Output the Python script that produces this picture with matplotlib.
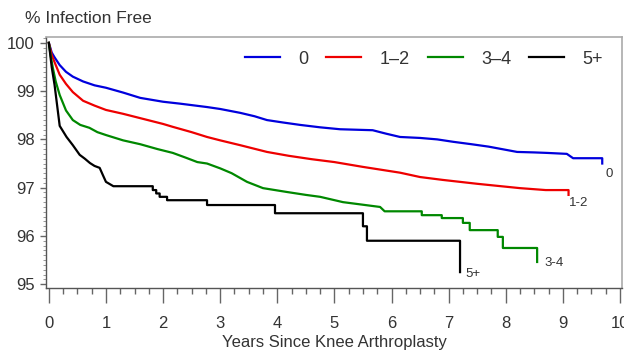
import matplotlib
matplotlib.use("Agg")
import matplotlib.pyplot as plt
from matplotlib.ticker import MultipleLocator

plt.rcParams['font.family'] = ['Liberation Sans', 'DejaVu Sans']

# ---- data ----
years_0 = [0, 0.05, 0.1, 0.19, 0.3, 0.42, 0.6, 0.8, 1.0, 1.3, 1.6, 2.0, 2.3, 2.77, 3.0, 3.35, 3.6, 3.82,
           4.1, 4.4, 4.75, 5.1, 5.67, 5.9, 6.15, 6.5, 6.8, 7.08, 7.4, 7.7, 8.2, 8.5, 8.72, 9.07, 9.18,
           9.69, 9.69]
free_0 = [100, 99.8, 99.7, 99.54, 99.4, 99.3, 99.2, 99.12, 99.07, 98.97, 98.86, 98.78, 98.74, 98.67,
          98.63, 98.55, 98.48, 98.40, 98.35, 98.30, 98.25, 98.21, 98.19, 98.12, 98.05, 98.03, 98.0,
          97.95, 97.9, 97.85, 97.74, 97.73, 97.72, 97.70, 97.61, 97.61, 97.5]

years_12 = [0, 0.05, 0.1, 0.19, 0.3, 0.42, 0.6, 0.8, 1.0, 1.3, 1.6, 2.0, 2.17, 2.5, 2.77, 3.0, 3.35,
            3.82, 4.2, 4.6, 5.0, 5.5, 6.15, 6.5, 6.9, 7.5, 8.25, 8.7, 9.1, 9.1]
free_12 = [100, 99.75, 99.6, 99.34, 99.15, 98.98, 98.8, 98.7, 98.61, 98.53, 98.44, 98.32, 98.26, 98.15,
           98.05, 97.98, 97.88, 97.74, 97.66, 97.59, 97.53, 97.43, 97.31, 97.22, 97.16, 97.08, 96.99,
           96.95, 96.95, 96.85]

years_34 = [0, 0.03, 0.07, 0.12, 0.19, 0.3, 0.42, 0.55, 0.71, 0.85, 1.0, 1.3, 1.6, 1.9, 2.17, 2.4,
            2.6, 2.77, 3.0, 3.2, 3.47, 3.75, 4.17, 4.5, 4.75, 5.15, 5.8, 5.88,
            6.53, 6.53, 6.88, 6.88, 7.25, 7.25, 7.37, 7.37, 7.86, 7.86, 7.95, 7.95, 8.55, 8.55]
free_34 = [100, 99.75, 99.48, 99.2, 98.92, 98.6, 98.4, 98.3, 98.24, 98.15, 98.09, 97.98, 97.9, 97.8,
           97.72, 97.62, 97.53, 97.5, 97.4, 97.3, 97.12, 96.99, 96.91, 96.85, 96.81, 96.7, 96.6, 96.51,
           96.51, 96.43, 96.43, 96.37, 96.37, 96.27, 96.27, 96.12, 96.12, 95.98, 95.98, 95.75, 95.75,
           95.46]

years_5 = [0, 0.05, 0.1, 0.19, 0.31, 0.42, 0.54, 0.63, 0.72, 0.8, 0.89, 0.95, 1.0, 1.13,
           1.82, 1.82, 1.88, 1.88, 1.94, 1.94, 2.07, 2.07, 2.77, 2.77, 3.96, 3.96, 5.5, 5.5, 5.57, 5.57,
           7.2, 7.2]
free_5 = [100, 99.5, 99.13, 98.28, 98.05, 97.88, 97.68, 97.6, 97.51, 97.45, 97.41, 97.25, 97.12, 97.03,
          97.03, 96.95, 96.95, 96.88, 96.88, 96.81, 96.81, 96.74, 96.74, 96.64, 96.64, 96.47, 96.47, 96.2,
          96.2, 95.9, 95.9, 95.25]

legend_labels = ['0', '1\u20132', '3\u20134', '5+']
end_labels = ['0', '1-2', '3-4', '5+']
colors = ['#0000dd', '#ee0000', '#008800', '#000000']
end_label_pos = [(9.82, 97.29), (9.27, 96.69), (8.84, 95.43), (7.43, 95.22)]

x_ticks = list(range(0, 11))
y_ticks = [95, 96, 97, 98, 99, 100]

# ---- figure ----
fig = plt.figure(figsize=(6.24, 3.53), dpi=100)
ax = fig.add_axes([0.0737, 0.184, 0.923, 0.711])

series = [(years_0, free_0), (years_12, free_12), (years_34, free_34), (years_5, free_5)]
for (xs, ys), c, lab in zip(series, colors, legend_labels):
    ax.plot(xs, ys, color=c, lw=1.6, label=lab)

for (px, py), lab in zip(end_label_pos, end_labels):
    ax.text(px, py, lab, fontsize=9.5, color='#333333', ha='center', va='center')

ax.set_xlim(-0.05, 10.035)
ax.set_ylim(94.92, 100.12)
ax.set_xticks(x_ticks)
ax.set_yticks(y_ticks)
ax.xaxis.set_minor_locator(MultipleLocator(0.25))
ax.yaxis.set_minor_locator(MultipleLocator(0.1))
ax.tick_params(axis='x', which='major', length=11, width=1, color='#666666', labelsize=12,
               labelcolor='#333333', pad=9)
ax.tick_params(axis='x', which='minor', length=4.5, width=1, color='#666666')
ax.tick_params(axis='y', which='major', length=4, width=1, color='#666666', labelsize=12,
               labelcolor='#333333', pad=4)
ax.tick_params(axis='y', which='minor', length=2, width=0.6, color='#888888')

for s in ['top', 'right']:
    ax.spines[s].set_color('#aaaaaa')
    ax.spines[s].set_linewidth(1.2)
for s in ['left', 'bottom']:
    ax.spines[s].set_color('#555555')
    ax.spines[s].set_linewidth(1.0)

ax.set_xlabel('Years Since Knee Arthroplasty', fontsize=12, color='#333333', labelpad=3)
fig.text(0.04, 0.948, '% Infection Free', fontsize=12.5, color='#333333', ha='left', va='center')

ax.legend(loc='upper right', bbox_to_anchor=(0.995, 1.01), ncol=4, frameon=False, fontsize=13,
          handlelength=1.95, handletextpad=1.0, columnspacing=1.0, labelcolor='#333333')

fig.savefig('out.png', dpi=100)
